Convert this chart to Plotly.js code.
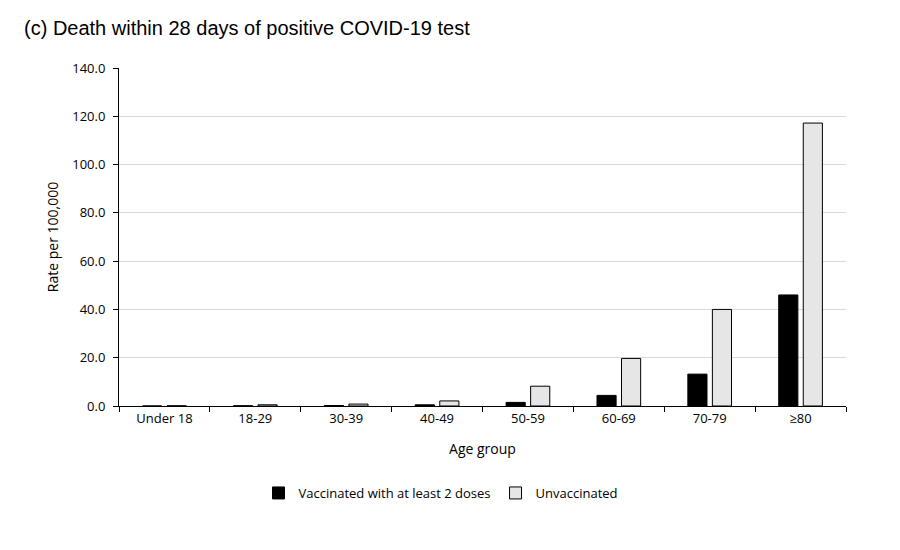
<!DOCTYPE html>
<html>
<head>
<meta charset="utf-8">
<script src="https://cdn.plot.ly/plotly-3.0.1.min.js"></script>
<style>html,body{margin:0;padding:0;background:#fff;}#chart{width:900px;height:550px;}</style>
</head>
<body>
<div id="chart"></div>
<script>
const ageGroups = ["Under 18", "18-29", "30-39", "40-49", "50-59", "60-69", "70-79", "≥80"];
const vaccinated = [0.0, 0.1, 0.2, 0.5, 1.5, 4.4, 13.2, 46.0];
const unvaccinated = [0.1, 0.5, 0.8, 2.1, 8.2, 19.7, 40.0, 117.2];
const yTickVals = [0, 20, 40, 60, 80, 100, 120, 140];
const yTickText = ["0.0", "20.0", "40.0", "60.0", "80.0", "100.0", "120.0", "140.0"];

const axisFont = {family: "Open Sans, Noto Sans, sans-serif", size: 13, color: "#000"};

const traces = [
  {
    type: "bar", name: "Vaccinated with at least 2 doses",
    x: ageGroups, y: vaccinated,
    marker: {color: "#000000", line: {color: "#000000", width: 1}},
    hoverinfo: "x+y"
  },
  {
    type: "bar", name: "Unvaccinated",
    x: ageGroups, y: unvaccinated,
    marker: {color: "#e6e6e6", line: {color: "#000000", width: 1}},
    hoverinfo: "x+y"
  }
];

const layout = {
  width: 900, height: 550,
  paper_bgcolor: "#fff", plot_bgcolor: "#fff",
  margin: {l: 119, r: 54, t: 68, b: 144},
  barmode: "group", bargap: 0.46, bargroupgap: 0.22,
  title: {
    text: "(c) Death within 28 days of positive COVID-19 test",
    font: {family: "Liberation Sans, Arial, sans-serif", size: 20, color: "#000"},
    x: 24/900, xref: "container", xanchor: "left",
    y: 1 - 28/550, yref: "container", yanchor: "middle"
  },
  xaxis: {
    type: "category",
    showline: true, linecolor: "#000", linewidth: 1,
    ticks: "outside", tickson: "boundaries", ticklen: 5, tickcolor: "#000",
    tickfont: axisFont,
    showgrid: false,
    title: {text: "Age group", font: {family: axisFont.family, size: 14, color: "#000"}, standoff: 18}
  },
  yaxis: {
    range: [0, 140],
    tickvals: yTickVals, ticktext: yTickText,
    showline: true, linecolor: "#000", linewidth: 1,
    ticks: "outside", ticklen: 5, tickcolor: "#000",
    ticklabelstandoff: 5,
    tickfont: axisFont,
    showgrid: true, gridcolor: "#d9d9d9", gridwidth: 1,
    zeroline: false,
    title: {text: "Rate per 100,000", font: {family: axisFont.family, size: 14, color: "#000"}, standoff: 10}
  },
  showlegend: true,
  legend: {
    orientation: "h",
    xref: "container", yref: "container",
    x: 0.49, xanchor: "center",
    y: 1 - 493/550, yanchor: "middle",
    font: {family: axisFont.family, size: 13, color: "#000"},
    itemwidth: 30
  }
};

Plotly.newPlot("chart", traces, layout, {displayModeBar: false, staticPlot: true});
</script>
</body>
</html>
